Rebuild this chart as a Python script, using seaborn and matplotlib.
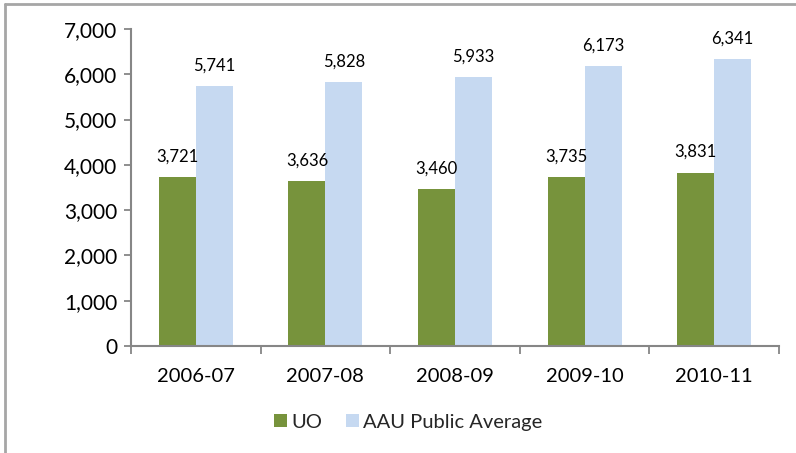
import matplotlib
matplotlib.use("Agg")
import matplotlib.pyplot as plt
from matplotlib.lines import Line2D
from matplotlib.ticker import FuncFormatter
import pandas as pd
import seaborn as sns

# chart data
years = ["2006-07", "2007-08", "2008-09", "2009-10", "2010-11"]
uo = [3721, 3636, 3460, 3735, 3831]
aau_public = [5741, 5828, 5933, 6173, 6341]
series_names = ["UO", "AAU Public Average"]
colors = ["#77933C", "#C6D9F1"]

df = pd.DataFrame({
    "year": years * 2,
    "value": uo + aau_public,
    "series": [series_names[0]] * len(years) + [series_names[1]] * len(years),
})

sns.set_theme(style="white")
plt.rcParams["font.family"] = ["Lato", "DejaVu Sans"]

fig = plt.figure(figsize=(7.96, 4.53), dpi=100)
ax = fig.add_axes([0.1646, 0.2362, 0.8141, 0.6998])

sns.barplot(data=df, x="year", y="value", hue="series", palette=colors,
            width=0.57, gap=0, saturation=1, linewidth=0, ax=ax, legend=True)

for c in ax.containers:
    ax.bar_label(c, labels=[f"{v:,.0f}" for v in c.datavalues],
                 padding=9, fontsize=12, color="black")

axis_gray = "#868686"
ax.set_ylim(0, 7000)
ax.set_xlim(-0.5, len(years) - 0.5)
ax.set_yticks(range(0, 7001, 1000))
ax.yaxis.set_major_formatter(FuncFormatter(lambda v, p: f"{v:,.0f}"))
ax.set_xlabel("")
ax.set_ylabel("")
ax.set_xticks(range(len(years)))
ax.set_xticklabels(years)
ax.tick_params(axis="x", length=0, labelsize=14.5, pad=16, colors="black")
ax.tick_params(axis="y", length=5, width=1.3, color=axis_gray, labelsize=15,
               pad=5, labelcolor="black", left=True)
# boundary ticks between categories on the x axis
ax.set_xticks([i - 0.5 for i in range(len(years) + 1)], minor=True)
ax.tick_params(axis="x", which="minor", length=6, width=1.3, color=axis_gray,
               bottom=True)

for s in ["top", "right"]:
    ax.spines[s].set_visible(False)
for s in ["left", "bottom"]:
    ax.spines[s].set_color(axis_gray)
    ax.spines[s].set_linewidth(1.5)

handles, labels = ax.get_legend_handles_labels()
ax.get_legend().remove()
fig.legend(handles, labels, loc="center", bbox_to_anchor=(0.513, 0.068),
           ncol=2, frameon=False, fontsize=14.5, handlelength=0.65,
           handleheight=0.65, handletextpad=0.2, columnspacing=1.2)

# outer chart border (top and left visible in the crop)
fig.add_artist(Line2D([0.006, 0.006], [0, 0.991], transform=fig.transFigure,
                      color="#a6a6a6", lw=2))
fig.add_artist(Line2D([0.006, 1], [0.991, 0.991], transform=fig.transFigure,
                      color="#a6a6a6", lw=2))

fig.savefig("out.png", dpi=100, facecolor="white")
